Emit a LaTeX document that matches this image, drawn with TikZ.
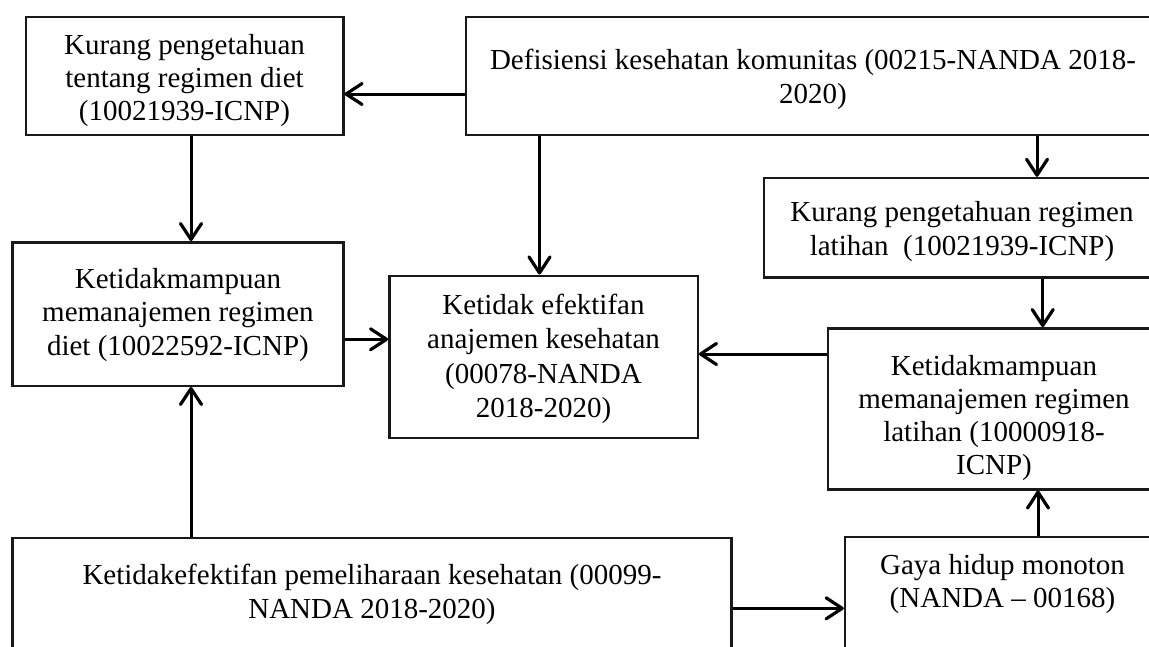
\documentclass[tikz,border=0pt]{standalone}
\usepackage{fontspec}
\setmainfont{Liberation Serif}
\usetikzlibrary{arrows.meta}
\begin{document}
\begin{tikzpicture}[x=1pt,y=-1pt,
  box/.style={draw=black!90, line width=2.4pt, inner sep=0pt, rectangle},
  txt/.style={font=\fontsize{29}{33.3}\selectfont, align=center, inner sep=0pt, text=black},
  arr/.style={draw=black, line width=3pt, -{Straight Barb[length=16pt,width=21pt,round,line width=3.2pt]}}]
\useasboundingbox (0,0) rectangle (1149,646);
\clip (0,0) rectangle (1149,646);
\fill[white] (0,0) rectangle (1149,646);

% boxes
\node[box, minimum width=317.6pt, minimum height=118.3pt] (A) at (184.5,75.85) {};
\node[box, minimum width=694.3pt, minimum height=118.3pt] (B) at (812.85,75.85) {};
\node[box, minimum width=330.8pt, minimum height=143.4pt] (C) at (177.9,314) {};
\node[box, minimum width=308.4pt, minimum height=162pt] (D) at (543.5,356.7) {};
\node[box, minimum width=396pt, minimum height=99.3pt] (E) at (962,227.65) {};
\node[box, minimum width=332pt, minimum height=161pt] (F) at (994,408.8) {};
\node[box, minimum width=315pt, minimum height=163pt] (G) at (1002.5,618.5) {};
\node[box, minimum width=718.8pt, minimum height=162pt] (H) at (371.9,619) {};

% texts
\node[txt] (tA) at (184.5,80.5) {Kurang pengetahuan\\tentang regimen diet\\(10021939-ICNP)};
\node[txt] (tB) at (813,79.5) {Defisiensi kesehatan komunitas (00215-NANDA 2018-\\2020)};
\node[txt] (tC) at (177.9,315) {Ketidakmampuan\\memanajemen regimen\\diet (10022592-ICNP)};
\node[txt, font=\fontsize{29}{34.5}\selectfont] (tD) at (543.5,359) {Ketidak efektifan\\anajemen kesehatan\\(00078-NANDA\\2018-2020)};
\node[txt, font=\fontsize{29}{34}\selectfont] (tE) at (962,231.2) {Kurang pengetahuan regimen\\latihan~ (10021939-ICNP)};
\node[txt] (tF) at (994,418) {Ketidakmampuan\\memanajemen regimen\\latihan (10000918-\\ICNP)};
\node[txt, font=\fontsize{29}{32.5}\selectfont] (tG) at (1002.5,584) {Gaya hidup monoton\\(NANDA – 00168)};
\node[txt] (tH) at (372,594.5) {Ketidakefektifan pemeliharaan kesehatan (00099-\\NANDA 2018-2020)};

% connector guide coordinates
\coordinate (yBA) at (0,94);
\coordinate (xAC) at (191,0);
\coordinate (xBD) at (539.5,0);
\coordinate (xBE) at (1037,0);
\coordinate (xEF) at (1042.7,0);
\coordinate (yFD) at (0,354);
\coordinate (yCD) at (0,339.3);
\coordinate (yHG) at (0,608.3);
\coordinate (xGF) at (1038,0);

% connectors
\draw[arr] (B.west |- yBA) -- (A.east |- yBA);
\draw[arr] (A.south -| xAC) -- (C.north -| xAC);
\draw[arr] (B.south -| xBD) -- (D.north -| xBD);
\draw[arr] (B.south -| xBE) -- (E.north -| xBE);
\draw[arr] (E.south -| xEF) -- (F.north -| xEF);
\draw[arr] (F.west |- yFD) -- (D.east |- yFD);
\draw[arr] (C.east |- yCD) -- (D.west |- yCD);
\draw[arr] (H.north -| xAC) -- (C.south -| xAC);
\draw[arr] (H.east |- yHG) -- (G.west |- yHG);
\draw[arr] (G.north -| xGF) -- (F.south -| xGF);
\end{tikzpicture}
\end{document}
